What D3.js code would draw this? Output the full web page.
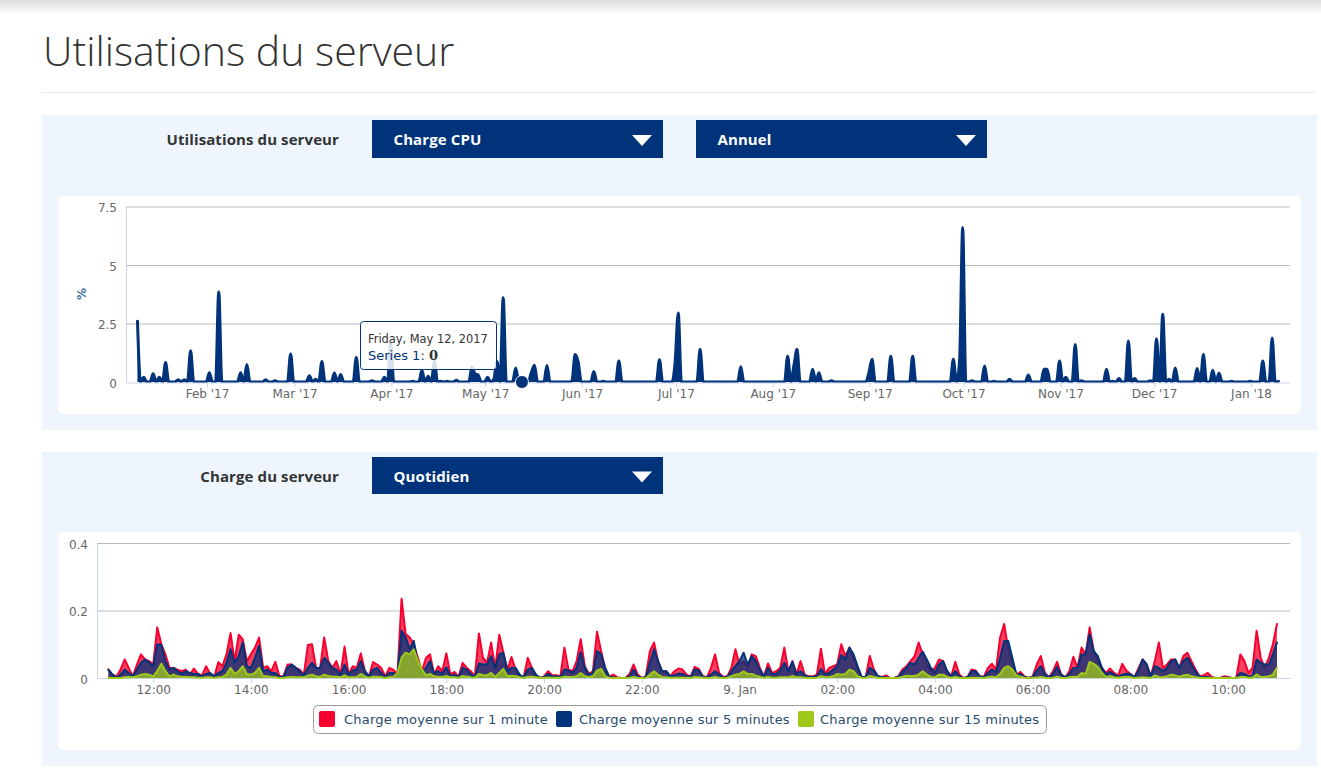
<!DOCTYPE html>
<html>
<head>
<meta charset="utf-8">
<title>Utilisations du serveur</title>
<script src="https://cdn.jsdelivr.net/npm/d3@7"></script>
<style>
	html, body { margin: 0; padding: 0; background: #fff; overflow: hidden; }
	svg { display: block; }
	.tick text { font: 12px 'DejaVu Sans', sans-serif; fill: #666; }
	.axis-x .domain, .axis-x .tick line { stroke: #ccd6eb; }
	.axis-y .domain { stroke: #ccd6eb; }
	.axis-y .tick line { stroke: #bbb; }
	.ui { font-family: 'Open Sans', sans-serif; font-weight: 700; font-size: 15px; letter-spacing: 0.1px; }
</style>
</head>
<body>
<svg id="page" width="1321" height="779"></svg>
<script>
const pageTitle = 'Utilisations du serveur';
const cpuTicks = [0, 2.5, 5, 7.5];
const loadTicks = [0, 0.2, 0.4];
const legendLabels = ['Charge moyenne sur 1 minute', 'Charge moyenne sur 5 minutes', 'Charge moyenne sur 15 minutes'];
const colors = {red: '#f5002f', navy: '#00337a', green: '#9fc91a'};

// one value per day, from 9 Jan 2017
const cpuValues = [
	2.6, 0, .2, 0, 0, .35, 0, .2, 0, .83,
	0, 0, 0, .1, 0, .1, 0, 1.34, 0, 0,
	0, 0, 0, .4, 0, 0, 3.85, 0, 0, 0,
	0, 0, 0, .4, 0, .75, 0, 0, 0, 0,
	0, .1, 0, 0, .05, 0, 0, 0, 0, 1.2,
	0, 0, 0, 0, 0, .27, 0, .12, 0, .88,
	0, 0, 0, .38, 0, .32, 0, 0, 0, 0,
	1.05, 0, 0, 0, 0, .05, 0, 0, 0, .2,
	0, 1.7, 0, 0, 0, 0, 0, 0, .03, 0,
	0, .5, 0, .25, 0, .9, 0, .03, 0, .03,
	0, 0, .08, 0, 0, 0, 0, .65, .35, .3,
	0, 0, .2, 0, .12, .88, 0, 3.6, 0, 0,
	0, .6, 0, 0, 0, 0, .4, .72, 0, 0,
	0, .7, 0, 0, 0, 0, 0, 0, 0, .05,
	1.17, .85, 0, 0, 0, 0, .45, 0, 0, .03,
	0, 0, 0, 0, .9, 0, 0, 0, 0, 0,
	0, 0, 0, 0, 0, 0, 0, .95, 0, 0,
	0, 0, .85, 2.95, 0, 0, 0, 0, 0, .03,
	1.4, 0, 0, 0, 0, 0, 0, 0, 0, 0,
	0, 0, 0, .65, 0, 0, 0, 0, 0, 0,
	0, 0, 0, 0, 0, 0, 0, 0, 1.1, 0,
	.7, 1.4, 0, 0, 0, 0, .55, 0, .4, 0,
	0, 0, .05, 0, 0, 0, 0, 0, 0, 0,
	0, 0, 0, 0, .4, .97, 0, 0, 0, 0,
	0, 1.1, 0, 0, 0, 0, 0, 0, 1.1, 0,
	0, 0, 0, 0, 0, 0, 0, 0, 0, 0,
	0, .97, 0, .9, 6.6, 0, 0, .05, 0, 0,
	0, .68, 0, 0, .03, 0, 0, 0, 0, .12,
	0, 0, 0, 0, 0, .3, 0, 0, 0, 0,
	.55, .55, 0, 0, 0, .9, 0, .2, 0, 0,
	1.6, 0, .05, 0, 0, 0, 0, 0, 0, 0,
	.55, 0, .03, 0, .15, 0, 0, 1.75, 0, .15,
	0, 0, 0, 0, .05, 0, 1.85, 0, 2.9, 0,
	.12, 0, .6, 0, 0, 0, 0, 0, 0, .58,
	0, 1.17, 0, 0, .5, 0, .37, 0, 0, 0,
	.03, 0, 0, 0, 0, 0, .03, 0, 0, 0,
	.9, 0, 0, 1.88, 0, .03
];

// one value every 5 minutes, from 8 Jan 2018 11:05
const load1 = [
	.025, .01, .005, .025, .055, .03, .005, .04, .07, .055,
	.05, .04, .15, .1, .07, .03, .03, .025, .02, .025,
	.01, .028, .012, .008, .035, .012, .003, .047, .035, .07,
	.133, .05, .128, .115, .05, .07, .09, .12, .03, .035,
	.02, .048, .005, .005, .04, .04, .03, .025, .01, .098,
	.1, .03, .03, .12, .05, .03, .05, .01, .093, .01,
	.035, .03, .073, .02, .005, .047, .04, .03, .005, .03,
	.025, .01, .235, .13, .12, .1, .06, .02, .06, .07,
	.01, .035, .02, .073, .01, .018, .003, .045, .03, .02,
	.005, .132, .06, .045, .105, .03, .128, .075, .025, .062,
	.025, .005, .002, .06, .03, .008, 0, .005, .02, .008,
	.008, .005, .09, .025, .02, .05, .115, .035, .012, .02,
	.137, .08, .03, .003, .01, .002, 0, 0, .012, .04,
	.01, 0, .005, .08, .105, .05, .02, .02, .005, .02,
	.028, .025, .01, .005, .033, .027, .005, .002, .03, .07,
	.015, .003, .005, .03, .085, .04, .05, .03, .07, .065,
	.03, .005, .043, .015, .02, .03, .09, .02, .05, .01,
	.05, .01, .005, .005, .01, .087, .01, .03, .035, .04,
	.1, .065, .09, .06, .03, .003, .003, .065, .025, .005,
	.003, .008, 0, 0, .005, .025, .035, .05, .065, .105,
	.07, .04, .02, .03, .055, .05, .02, .005, .048, .01,
	0, .003, .025, .022, .005, .003, .03, .042, .025, .12,
	.16, .085, .05, .01, .018, .005, 0, .005, .04, .065,
	.015, .002, .02, .048, .01, .002, .02, .063, .03, .09,
	.07, .15, .08, .05, .03, .015, .028, .015, .007, .042,
	.022, .012, .002, .03, .055, .04, .005, .05, .105, .03,
	.04, .055, .055, .03, .065, .075, .05, .025, .005, .008,
	.015, .003, 0, 0, .005, .003, 0, 0, .07, .05,
	.015, .03, .14, .06, .03, .06, .1, .16
];
const load5 = [
	.025, .01, 0, .01, .025, .015, .005, .025, .045, .055,
	.045, .035, .1, .098, .05, .025, .03, .02, .012, .02,
	.015, .012, .012, .005, .012, .015, .005, .015, .02, .045,
	.085, .045, .065, .105, .035, .03, .06, .095, .02, .025,
	.015, .015, .003, .003, .03, .04, .03, .02, .008, .03,
	.045, .03, .03, .06, .045, .03, .025, .01, .04, .01,
	.022, .025, .05, .02, .005, .025, .03, .015, .003, .015,
	.015, .008, .14, .12, .085, .11, .045, .015, .03, .05,
	.015, .02, .013, .032, .005, .01, .002, .03, .025, .012,
	.003, .043, .04, .04, .065, .03, .07, .075, .02, .03,
	.03, .01, .002, .025, .03, .01, 0, .003, .012, .005,
	.005, .003, .025, .022, .015, .03, .077, .03, .01, .015,
	.08, .07, .03, .003, .002, 0, 0, 0, .005, .025,
	.005, 0, .003, .045, .085, .05, .02, .02, .005, .008,
	.013, .012, .005, .003, .025, .022, .004, .001, .01, .02,
	.01, .002, .003, .02, .035, .05, .075, .04, .065, .05,
	.025, .005, .03, .012, .012, .022, .045, .02, .048, .012,
	.02, .008, .003, .003, .005, .027, .01, .015, .025, .035,
	.068, .055, .09, .07, .035, .003, .003, .03, .022, .005,
	.002, .002, 0, 0, .003, .018, .03, .045, .04, .06,
	.078, .055, .03, .015, .04, .05, .02, .005, .02, .005,
	0, .002, .02, .02, .005, .002, .015, .025, .018, .06,
	.11, .11, .06, .01, .012, .003, 0, .003, .022, .035,
	.012, .002, .012, .033, .01, .002, .012, .03, .03, .07,
	.07, .13, .08, .065, .03, .01, .018, .01, .003, .01,
	.013, .012, .002, .022, .055, .04, .005, .035, .03, .02,
	.03, .05, .055, .03, .05, .06, .04, .02, .004, .003,
	.003, .001, 0, 0, .001, .001, 0, 0, .015, .012,
	.005, .005, .055, .045, .04, .04, .07, .105
];
const load15 = [
	0, 0, 0, 0, .002, .003, .002, .005, .01, .012,
	.01, .005, .02, .042, .02, .005, .01, .005, .003, .003,
	.002, .002, .001, .001, .002, .002, 0, .002, .003, .01,
	.03, .012, .02, .035, .012, .01, .015, .03, .005, .005,
	.003, .002, 0, 0, .002, .003, .002, .002, .002, .007,
	.01, .005, .003, .01, .006, .004, .004, .002, .008, .002,
	.002, .003, .012, .004, .001, .004, .004, .002, 0, .002,
	.003, .015, .06, .075, .07, .085, .05, .025, .008, .012,
	.005, .003, .003, .006, .002, .002, 0, .006, .004, .002,
	.001, .012, .008, .008, .015, .003, .015, .027, .005, .007,
	.005, .002, 0, .004, .004, .002, 0, .001, .001, .001,
	.001, .001, .004, .003, .003, .005, .015, .005, .002, .005,
	.022, .027, .005, .001, 0, 0, 0, 0, .001, .003,
	.001, 0, 0, .01, .02, .01, .003, .002, .001, .001,
	.001, .001, .001, 0, .003, .002, .001, 0, .001, .003,
	.001, 0, .001, .005, .01, .012, .02, .012, .012, .007,
	.003, .001, .003, .001, .001, .002, .002, .002, .006, .002,
	.002, .001, 0, 0, .001, .005, .002, .002, .005, .012,
	.01, .012, .025, .02, .005, .001, 0, .006, .003, .001,
	0, 0, 0, 0, .001, .003, .007, .006, .006, .01,
	.02, .01, .003, .002, .01, .01, .003, .001, .003, .001,
	0, 0, .001, .001, .001, 0, .002, .004, .002, .012,
	.03, .035, .025, .008, .004, .001, 0, .001, .001, .003,
	.001, 0, .001, .004, .001, 0, .002, .004, .003, .015,
	.012, .048, .042, .033, .015, .003, .005, .002, .001, .002,
	.003, .002, 0, .001, .002, .001, 0, .008, .003, .002,
	.005, .01, .008, .003, .008, .01, .005, .002, .001, 0,
	0, 0, 0, 0, 0, 0, 0, 0, .003, .003,
	.001, .001, .01, .003, .003, .005, .01, .03
];

const cpuStart = new Date(Date.UTC(2017, 0, 9, 18));
const loadStart = new Date(Date.UTC(2018, 0, 8, 11, 5));
const hoverDay = 123;

const svg = d3.select('#page');

// page furniture
const defs = svg.append('defs');
const fade = defs.append('linearGradient')
	.attr('id', 'fade').attr('x1', 0).attr('x2', 0).attr('y1', 0).attr('y2', 1);
fade.append('stop').attr('offset', 0).attr('stop-color', '#dcdcdc');
fade.append('stop').attr('offset', 1).attr('stop-color', '#fff');
svg.append('rect').attr('width', 1321).attr('height', 14).attr('fill', 'url(#fade)');

svg.append('text')
	.attr('x', 43).attr('y', 66)
	.attr('font-family', "'Open Sans', sans-serif").attr('font-weight', 300).attr('font-size', 41)
	.attr('fill', '#333')
	.text(pageTitle);
svg.append('line').attr('x1', 42).attr('x2', 1316).attr('y1', 92.5).attr('y2', 92.5).attr('stroke', '#eee');

const panel = (top, height, cardTop, cardHeight) => {
	svg.append('rect').attr('x', 42).attr('y', top).attr('width', 1275).attr('height', height).attr('fill', '#eef5fd');
	svg.append('rect').attr('x', 58).attr('y', cardTop).attr('width', 1243).attr('height', cardHeight).attr('rx', 5).attr('fill', '#fff');
};
panel(115, 315, 196, 218);
panel(452, 314, 532, 218);

const label = (text, y) => {
	svg.append('text').attr('class', 'ui')
		.attr('x', 339).attr('y', y).attr('text-anchor', 'end').attr('fill', '#333')
		.text(text);
};
const dropdown = (text, x, y, height) => {
	const g = svg.append('g').attr('transform', `translate(${x},${y})`);
	g.append('rect').attr('width', 291).attr('height', height).attr('fill', colors.navy);
	g.append('text').attr('class', 'ui')
		.attr('x', 21.5).attr('y', height / 2 + 6).attr('fill', '#fff')
		.text(text);
	g.append('path')
		.attr('d', d3.line()([[260, height / 2 - 4], [280, height / 2 - 4], [270, height / 2 + 7]]) + 'Z')
		.attr('fill', '#fff');
};
label('Utilisations du serveur', 145);
dropdown('Charge CPU', 372, 120, 38);
dropdown('Annuel', 696, 120, 38);
label('Charge du serveur', 482);
dropdown('Quotidien', 372, 457, 37);

const drawAxes = (x, y, xTicks, xFormat, yTicks, yFormat, bottom) => {
	const gy = svg.append('g').attr('class', 'axis-y')
		.attr('transform', `translate(${x.range()[0]},0)`)
		.call(d3.axisLeft(y).tickValues(yTicks).tickFormat(yFormat).tickSizeInner(-(x.range()[1] - x.range()[0])).tickSizeOuter(0).tickPadding(9));
	gy.selectAll('.tick').filter(d => d === 0).select('line').remove();
	gy.selectAll('.tick text').attr('dy', '0.42em');
	svg.append('g').attr('class', 'axis-x')
		.attr('transform', `translate(0,${bottom})`)
		.call(d3.axisBottom(x).tickValues(xTicks).tickFormat(xFormat).tickSize(5).tickSizeOuter(0).tickPadding(2));
};

const drawArea = (x, y, data, color, width, opacity, curve, clip) => {
	const area = d3.area().curve(curve).x(d => x(d.date)).y0(y(0)).y1(d => y(d.value));
	const line = d3.line().curve(curve).x(d => x(d.date)).y(d => y(d.value));
	const g = svg.append('g').attr('clip-path', clip);
	g.append('path').attr('d', area(data)).attr('fill', color).attr('fill-opacity', opacity);
	g.append('path').attr('d', line(data))
		.attr('fill', 'none').attr('stroke', color).attr('stroke-width', width)
		.attr('stroke-linejoin', 'round').attr('stroke-linecap', 'round');
};

// annual CPU chart
const cpuData = cpuValues.map((value, i) => ({date: d3.utcDay.offset(cpuStart, i), value}));
const xCpu = d3.scaleUtc()
	.domain([new Date(Date.UTC(2017, 0, 6, 2)), new Date(Date.UTC(2018, 0, 13, 11))])
	.range([126, 1290]);
const yCpu = d3.scaleLinear().domain([0, 7.5]).range([382, 206.5]);
drawAxes(xCpu, yCpu, d3.utcMonth.range(new Date(Date.UTC(2017, 1, 1)), new Date(Date.UTC(2018, 0, 2))),
	d3.utcFormat("%b '%y"), cpuTicks, d3.format('~g'), 382.5);
defs.append('clipPath').attr('id', 'cpu-clip').append('rect')
	.attr('x', xCpu.range()[0]).attr('y', yCpu.range()[1] - 5)
	.attr('width', xCpu.range()[1] - xCpu.range()[0]).attr('height', yCpu.range()[0] - yCpu.range()[1] + 5.5);
drawArea(xCpu, yCpu, cpuData, colors.navy, 3, 1, d3.curveMonotoneX, 'url(#cpu-clip)');

svg.append('text')
	.attr('transform', 'translate(86,294) rotate(-90)')
	.attr('text-anchor', 'middle')
	.attr('font-family', "'DejaVu Sans', sans-serif").attr('font-weight', 700).attr('font-size', 12)
	.attr('fill', '#4d759e')
	.text('%');

// hovered point and its tooltip
const hovered = cpuData[hoverDay];
svg.append('circle')
	.attr('cx', xCpu(hovered.date)).attr('cy', yCpu(hovered.value)).attr('r', 6.5)
	.attr('fill', colors.navy).attr('stroke', '#fff').attr('stroke-width', 1);
const tip = svg.append('g').attr('transform', 'translate(360,321)').attr('font-family', "'DejaVu Sans', sans-serif");
tip.append('rect').attr('x', 0.5).attr('y', 0.5).attr('width', 136).attr('height', 48).attr('rx', 3)
	.attr('fill', '#fff').attr('fill-opacity', 0.85).attr('stroke', colors.navy);
tip.append('text').attr('x', 8).attr('y', 22).attr('font-size', 11.4).attr('fill', '#333')
	.text(d3.utcFormat('%A, %B %-d, %Y')(hovered.date));
const tipLine = tip.append('text').attr('x', 8).attr('y', 39).attr('font-size', 13).attr('fill', '#333');
tipLine.append('tspan').attr('fill', colors.navy).text('Series 1');
tipLine.append('tspan').text(': ');
tipLine.append('tspan').attr('font-weight', 700).attr('font-family', "'DejaVu Serif', serif").text(hovered.value);

// daily server load chart
const xLoad = d3.scaleUtc()
	.domain([new Date(Date.UTC(2018, 0, 8, 10, 51)), new Date(Date.UTC(2018, 0, 9, 11, 16))])
	.range([97, 1290]);
const yLoad = d3.scaleLinear().domain([0, 0.4]).range([678, 543]);
const loadFormat = d => d.getUTCHours() === 0 ? '9. Jan' : d3.utcFormat('%H:%M')(d);
drawAxes(xLoad, yLoad, d3.utcHour.every(2).range(new Date(Date.UTC(2018, 0, 8, 12)), new Date(Date.UTC(2018, 0, 9, 11))),
	loadFormat, loadTicks, d3.format('~g'), 678);
[[load1, colors.red], [load5, colors.navy], [load15, colors.green]].forEach(([values, color]) => {
	const data = values.map((value, i) => ({date: d3.utcMinute.offset(loadStart, i * 5), value}));
	drawArea(xLoad, yLoad, data, color, 2, 0.75, d3.curveLinear, null);
});

// legend
svg.append('rect').attr('x', 313.5).attr('y', 705.5).attr('width', 733).attr('height', 28).attr('rx', 5)
	.attr('fill', '#fff').attr('stroke', '#999');
const legendSwatchX = [319, 556, 798];
const legendTextX = [344, 579, 820];
legendLabels.forEach((text, i) => {
	svg.append('rect').attr('x', legendSwatchX[i]).attr('y', 711).attr('width', 16).attr('height', 16).attr('rx', 2)
		.attr('fill', [colors.red, colors.navy, colors.green][i]);
	svg.append('text').attr('x', legendTextX[i]).attr('y', 724)
		.attr('font-family', "'DejaVu Sans', sans-serif").attr('font-size', 13).attr('letter-spacing', 0.2).attr('fill', '#274b6d')
		.text(text);
});
</script>
</body>
</html>
